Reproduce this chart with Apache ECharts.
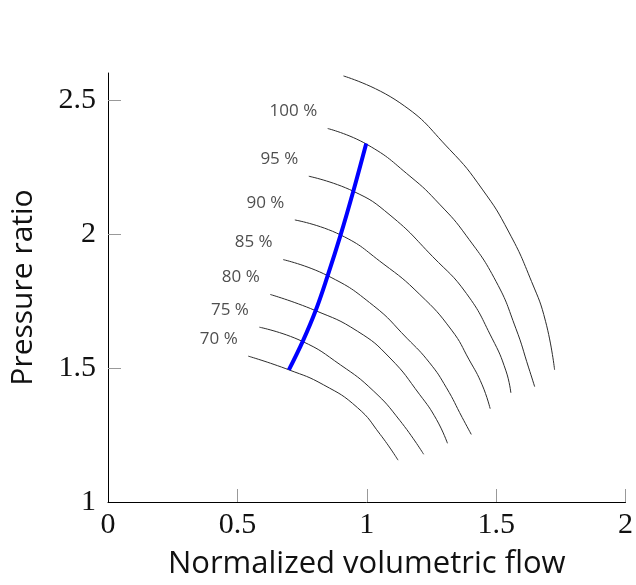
<!DOCTYPE html>
<html style='height: 100%'>
<head>
    <meta charset='utf-8'>
</head>
<body style='height: 100%; margin: 0; background: #fff'>
    <div id='container' style='width: 636px; height: 585px'></div>
    <script type='text/javascript' src='https://cdn.jsdelivr.net/npm/echarts@6/dist/echarts.min.js'></script>
    <script type="text/javascript">
// speed lines, outermost first: [flow, pressure ratio]
var speedLabels = ['', '100 %', '95 %', '90 %', '85 %', '80 %', '75 %', '70 %'];
var line0 = [[0.910, 2.589], [1.128, 2.489], [1.320, 2.315], [1.446, 2.167], [1.549, 2.007], [1.637, 1.822], [1.691, 1.674], [1.726, 1.493]];
var line100 = [[0.849, 2.393], [1.002, 2.333], [1.167, 2.215], [1.281, 2.111], [1.385, 1.993], [1.500, 1.822], [1.576, 1.648], [1.626, 1.500], [1.649, 1.430]];
var line95 = [[0.776, 2.215], [0.948, 2.159], [1.090, 2.070], [1.255, 1.915], [1.385, 1.778], [1.484, 1.611], [1.538, 1.489], [1.557, 1.407]];
var line90 = [[0.722, 2.052], [0.899, 1.996], [1.063, 1.889], [1.205, 1.774], [1.328, 1.641], [1.396, 1.530], [1.446, 1.437], [1.477, 1.348]];
var line85 = [[0.677, 1.904], [0.849, 1.844], [1.025, 1.733], [1.155, 1.611], [1.243, 1.519], [1.308, 1.426], [1.369, 1.315], [1.404, 1.252]];
var line80 = [[0.627, 1.774], [0.799, 1.715], [0.964, 1.637], [1.090, 1.537], [1.205, 1.400], [1.270, 1.307], [1.312, 1.219]];
var line75 = [[0.585, 1.652], [0.749, 1.600], [0.899, 1.511], [1.025, 1.415], [1.128, 1.304], [1.220, 1.178]];
var line70 = [[0.542, 1.544], [0.699, 1.493], [0.833, 1.437], [0.964, 1.352], [1.052, 1.252], [1.121, 1.156]];
// operating line (blue)
var opLine = [[0.699, 1.493], [0.753, 1.600], [0.803, 1.715], [0.849, 1.844], [0.899, 1.996], [0.948, 2.159], [0.998, 2.337]];

var xTicks = [0, 0.5, 1, 1.5, 2];
var yTicks = [1, 1.5, 2, 2.5];

var speedLines = [line0, line100, line95, line90, line85, line80, line75, line70];

var dom = document.getElementById("container");
var myChart = echarts.init(dom);

var series = [];
speedLines.forEach(function (pts, i) {
    series.push({
        type: 'line',
        data: pts,
        smooth: 0.5,
        showSymbol: false,
        silent: true,
        lineStyle: {color: '#2b2b2b', width: 1}
    });
});
series.push({
    type: 'line',
    data: opLine,
    smooth: 0.4,
    showSymbol: false,
    silent: true,
    z: 5,
    lineStyle: {color: '#0000ff', width: 4}
});
// percentage labels at the start of each speed line
var labelPts = [];
for (var i = 1; i < speedLines.length; i++) {
    labelPts.push({value: speedLines[i][0], name: speedLabels[i]});
}
series.push({
    type: 'scatter',
    data: labelPts,
    symbolSize: 1,
    itemStyle: {color: 'rgba(0,0,0,0)'},
    silent: true,
    label: {
        show: true,
        position: 'left',
        distance: 10,
        offset: [0, -17],
        formatter: '{b}',
        fontFamily: 'Open Sans',
        fontSize: 17,
        color: '#222'
    }
});

var option = {
    animation: false,
    grid: {left: 105, right: 8, top: 73, bottom: 80},
    xAxis: {
        type: 'value',
        min: 0,
        max: 2,
        interval: 0.5,
        name: 'Normalized volumetric flow',
        nameLocation: 'middle',
        nameGap: 47,
        nameTextStyle: {fontFamily: 'Open Sans', fontSize: 31, color: '#111'},
        splitLine: {show: false},
        axisLine: {lineStyle: {color: '#000', width: 1}},
        axisTick: {inside: true, length: 13, lineStyle: {color: '#999'}, customValues: [0.5, 1, 1.5, 2]},
        axisLabel: {
            customValues: xTicks,
            fontFamily: 'Liberation Serif',
            fontSize: 30,
            color: '#111',
            margin: 8
        }
    },
    yAxis: {
        type: 'value',
        min: 1,
        max: 2.6,
        interval: 0.5,
        name: 'Pressure ratio',
        nameLocation: 'middle',
        nameGap: 70,
        nameTextStyle: {fontFamily: 'Open Sans', fontSize: 30, color: '#111'},
        splitLine: {show: false},
        axisLine: {show: true, lineStyle: {color: '#000', width: 1}},
        axisTick: {show: true, inside: true, length: 13, lineStyle: {color: '#999'}, customValues: [1.5, 2, 2.5]},
        axisLabel: {
            customValues: yTicks,
            fontFamily: 'Liberation Serif',
            fontSize: 30,
            color: '#111',
            margin: 12
        }
    },
    series: series
};
myChart.setOption(option, true);
    </script>
</body>
</html>
